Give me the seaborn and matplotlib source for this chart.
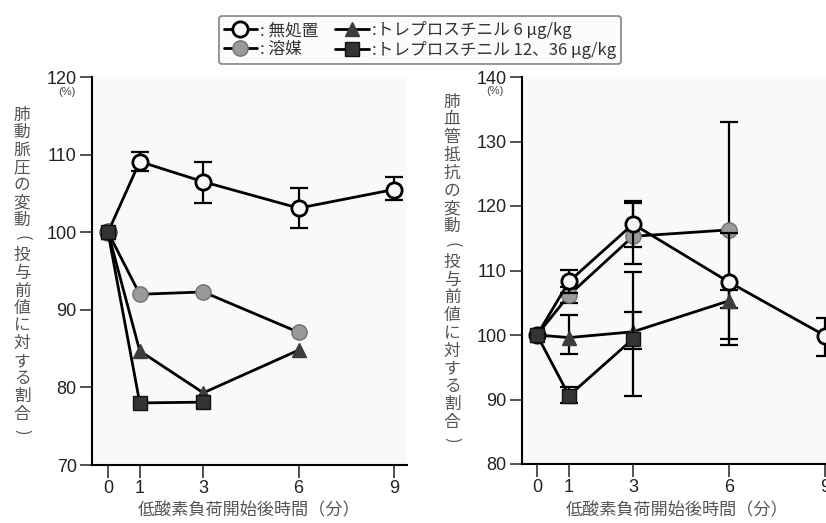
import matplotlib
matplotlib.use("Agg")
import matplotlib.pyplot as plt
import seaborn as sns
from matplotlib.lines import Line2D

sns.set_theme(style="ticks")
plt.rcParams['font.family'] = ['Noto Sans CJK JP', 'DejaVu Sans']

# time after start of hypoxic challenge (min)
t_ctrl = [0, 1, 3, 6, 9]
t_veh = [0, 1, 3, 6]
t_low = [0, 1, 3, 6]
t_high = [0, 1, 3]

# pulmonary arterial pressure (% of pre-dose value)
pap_ctrl = [100, 109.1, 106.5, 103.1, 105.5]
pap_ctrl_lo = [0, 1.2, 2.7, 2.5, 1.4]
pap_ctrl_hi = [0, 1.2, 2.5, 2.6, 1.6]
pap_veh = [100, 92.0, 92.3, 87.1]
pap_low = [100, 84.7, 79.3, 84.8]
pap_high = [100, 78.0, 78.1]

# pulmonary vascular resistance (% of pre-dose value)
pvr_ctrl = [100, 108.3, 117.2, 108.2, 99.9]
pvr_ctrl_lo = [0, 1.8, 3.6, 9.8, 3.1]
pvr_ctrl_hi = [0, 1.8, 3.5, 7.6, 2.7]
pvr_veh = [100, 106.2, 115.3, 116.3]
pvr_veh_lo = [0, 1.3, 4.3, 16.9]
pvr_veh_hi = [0, 1.3, 5.1, 16.8]
pvr_low = [100, 99.6, 100.5, 105.3]
pvr_low_lo = [0, 2.5, 2.6, 1.1]
pvr_low_hi = [0, 3.5, 3.0, 1.6]
pvr_high = [100, 90.6, 99.4]
pvr_high_lo = [0, 1.2, 8.9]
pvr_high_hi = [0, 1.4, 10.3]

legend_labels = [": 無処置", ": 溶媒", ":トレプロスチニル 6 μg/kg", ":トレプロスチニル 12、36 μg/kg"]
x_ticks = [0, 1, 3, 6, 9]
x_label = "低酸素負荷開始後時間（分）"
y_label_left = "肺動脈圧の変動(投与前値に対する割合)"
y_label_right = "肺血管抵抗の変動(投与前値に対する割合)"

styles = {
    "ctrl": dict(marker="o", markersize=11, markerfacecolor="#f7f7f7",
                 markeredgecolor="black", markeredgewidth=2),
    "veh": dict(marker="o", markersize=11, markerfacecolor="#9a9a9a",
                markeredgecolor="#707070", markeredgewidth=1),
    "low": dict(marker="^", markersize=10, markerfacecolor="#3c3c3c",
                markeredgecolor="#3c3c3c", markeredgewidth=1),
    "high": dict(marker="s", markersize=10, markerfacecolor="#333333",
                 markeredgecolor="#111111", markeredgewidth=1),
}

W, H = 826, 523
fig = plt.figure(figsize=(W / 100, H / 100), dpi=100)
fig.patch.set_facecolor("white")

ax1 = fig.add_axes([92 / W, 1 - 465 / H, 315 / W, 388 / H])
ax2 = fig.add_axes([522 / W, 1 - 464 / H, 319 / W, 387 / H])

TICK_FONT = ['Liberation Sans', 'DejaVu Sans']


def draw_series(ax, t, y, key, z, lo=None, hi=None):
    if lo is not None:
        ax.errorbar(t[1:], y[1:], yerr=[lo[1:], hi[1:]], fmt="none",
                    ecolor="black", elinewidth=1.6, capsize=6.5,
                    capthick=1.6, zorder=z - 0.5)
    sns.lineplot(x=t, y=y, ax=ax, color="black", linewidth=2.0,
                 zorder=z, **styles[key])


draw_series(ax1, t_ctrl, pap_ctrl, "ctrl", 3, pap_ctrl_lo, pap_ctrl_hi)
draw_series(ax1, t_veh, pap_veh, "veh", 4)
draw_series(ax1, t_low, pap_low, "low", 5)
draw_series(ax1, t_high, pap_high, "high", 6)

draw_series(ax2, t_veh, pvr_veh, "veh", 3, pvr_veh_lo, pvr_veh_hi)
draw_series(ax2, t_ctrl, pvr_ctrl, "ctrl", 4, pvr_ctrl_lo, pvr_ctrl_hi)
draw_series(ax2, t_low, pvr_low, "low", 5, pvr_low_lo, pvr_low_hi)
draw_series(ax2, t_high, pvr_high, "high", 6, pvr_high_lo, pvr_high_hi)

for ax, (ylo, yhi) in ((ax1, (70, 120)), (ax2, (80, 140))):
    ax.set_facecolor("#f9f9f9")
    ax.set_ylim(ylo, yhi)
    ax.set_yticks(range(ylo, yhi + 1, 10))
    ax.set_xticks(x_ticks)
    ax.set_xlabel("")
    ax.set_ylabel("")
    for s in ("top", "right"):
        ax.spines[s].set_visible(False)
    for s in ("left", "bottom"):
        ax.spines[s].set_color("black")
        ax.spines[s].set_linewidth(1.5)
    ax.tick_params(axis="both", direction="out", length=9, width=1.2,
                   color="#333333", labelsize=13, labelcolor="#222222", pad=2)
    for lab in ax.get_xticklabels() + ax.get_yticklabels():
        lab.set_family(TICK_FONT)

ax1.set_xlim(-0.503, 9.41)
ax2.set_xlim(-0.47, 9.5)


def vertical_label(x_px, y0_px, step_px, text):
    """Stack characters top to bottom; brackets are turned sideways."""
    for i, ch in enumerate(text):
        rot = -90 if ch in "()" else 0
        fig.text(x_px / W, 1 - (y0_px + i * step_px) / H, ch,
                 fontsize=12, color="#555555", ha="center",
                 va="center", rotation=rot)


vertical_label(22, 115, 17.6, y_label_left)
vertical_label(452, 102, 17.8, y_label_right)

fig.text(67 / W, 1 - 92 / H, "(%)", fontsize=8, color="#444444",
         ha="center", va="center", family=TICK_FONT)
fig.text(495 / W, 1 - 91 / H, "(%)", fontsize=8, color="#444444",
         ha="center", va="center", family=TICK_FONT)

fig.text(249 / W, 1 - 510 / H, x_label, fontsize=12.3, color="#555555",
         ha="center", va="center")
fig.text(677 / W, 1 - 510 / H, x_label, fontsize=12.3, color="#555555",
         ha="center", va="center")

handles = [Line2D([], [], color="black", linewidth=2.0, **styles[k])
           for k in ("ctrl", "veh", "low", "high")]
leg = fig.legend(handles, legend_labels, ncol=2, loc="center",
                 bbox_to_anchor=(420 / W, 1 - 40 / H), frameon=True,
                 fancybox=True, edgecolor="#666666", facecolor="#fbfbfb",
                 fontsize=12, handlelength=2.0, handletextpad=0.2,
                 columnspacing=1.0, labelspacing=0.1, borderpad=0.3)
leg.get_frame().set_linewidth(1.2)
for txt in leg.get_texts():
    txt.set_color("#333333")

fig.savefig("out.png", dpi=100)
